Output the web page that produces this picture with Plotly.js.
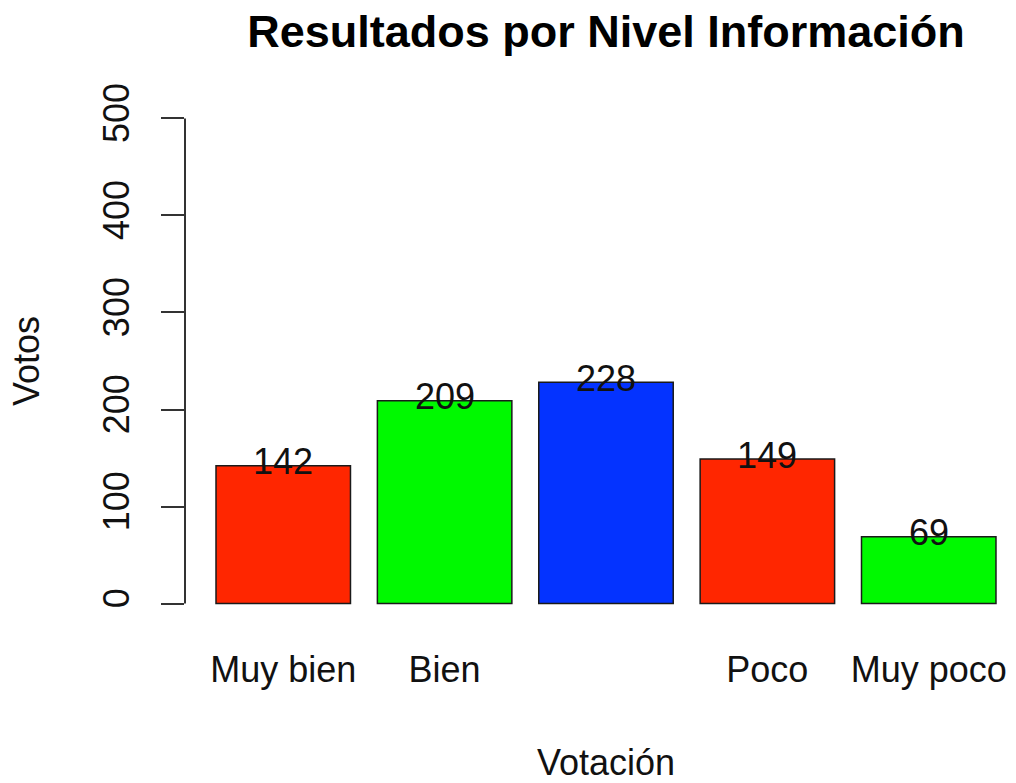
<!DOCTYPE html>
<html>
<head>
<meta charset="utf-8">
<script src="https://cdn.plot.ly/plotly-3.0.1.min.js"></script>
<style>html,body{margin:0;padding:0;background:#fff;}#chart{width:1016px;height:783px;}</style>
</head>
<body>
<div id="chart"></div>
<script>
// Data
const categories = ["Muy bien", "Bien", "", "Poco", "Muy poco"];
const votes = [142, 209, 228, 149, 69];
const barColors = ["#FF2600", "#00F900", "#0433FF", "#FF2600", "#00F900"];
const yTicks = [0, 100, 200, 300, 400, 500];
const xTitle = "Votación";
const yTitle = "Votos";
const mainTitle = "Resultados por Nivel Información";

// R barplot style positions: width 1, space 0.2
const barWidth = 1, space = 0.2;
const centers = categories.map((_, i) => space + i * (barWidth + space) + barWidth / 2);

const W = 1016, H = 783;
const margin = {l: 185, r: 6, t: 99, b: 160};
const plotW = W - margin.l - margin.r;
const pxPerUnit = 134.48;
const x0 = space - 31 / pxPerUnit;
const x1 = x0 + plotW / pxPerUnit;
const titleCenterX = 606; // centre of R's plot region

const font = "Liberation Sans, Arial, Helvetica, sans-serif";

const trace = {
  type: "bar",
  x: centers,
  y: votes,
  width: barWidth,
  marker: {color: barColors, line: {color: "#1a1a1a", width: 1.5}},
  hoverinfo: "skip"
};

const annotations = centers.map((c, i) => ({
  x: c, y: votes[i], xref: "x", yref: "y",
  text: String(votes[i]), showarrow: false,
  xanchor: "center", yanchor: "middle", yshift: 4,
  font: {family: font, size: 36, color: "#111"}
}));
annotations.push({
  xref: "paper", yref: "paper",
  x: (titleCenterX - margin.l) / plotW, y: -(762 - (H - margin.b)) / (H - margin.t - margin.b),
  xanchor: "center", yanchor: "middle",
  text: xTitle, showarrow: false,
  font: {family: font, size: 36, color: "#111"}
});

const layout = {
  width: W, height: H, autosize: false,
  margin: margin,
  paper_bgcolor: "#fff", plot_bgcolor: "#fff",
  showlegend: false,
  font: {family: font, color: "#111"},
  title: {
    text: "<b>" + mainTitle + "</b>",
    font: {family: font, size: 45, color: "#000"},
    xref: "container", yref: "container",
    x: titleCenterX / W, xanchor: "center",
    y: 1 - 31 / H, yanchor: "middle"
  },
  xaxis: {
    range: [x0, x1],
    tickvals: centers, ticktext: categories,
    ticks: "", showline: false, showgrid: false, zeroline: false,
    tickfont: {family: font, size: 36, color: "#111"},
    ticklabelstandoff: 22,
    fixedrange: true
  },
  yaxis: {
    range: [-20, 520],
    tickvals: yTicks, ticktext: yTicks.map(String),
    ticks: "outside", ticklen: 23, tickwidth: 2, tickcolor: "#333",
    tickangle: -90,
    showline: false, showgrid: false, zeroline: false,
    tickfont: {family: font, size: 36, color: "#111"},
    ticklabelstandoff: 18,
    title: {text: yTitle, font: {family: font, size: 36, color: "#111"}, standoff: 44},
    fixedrange: true
  },
  shapes: [{
    type: "line", xref: "paper", yref: "y",
    x0: 0, x1: 0, y0: yTicks[0], y1: yTicks[yTicks.length - 1],
    line: {color: "#333", width: 2}
  }],
  annotations: annotations
};

Plotly.newPlot("chart", [trace], layout, {displayModeBar: false, staticPlot: true});
</script>
</body>
</html>
